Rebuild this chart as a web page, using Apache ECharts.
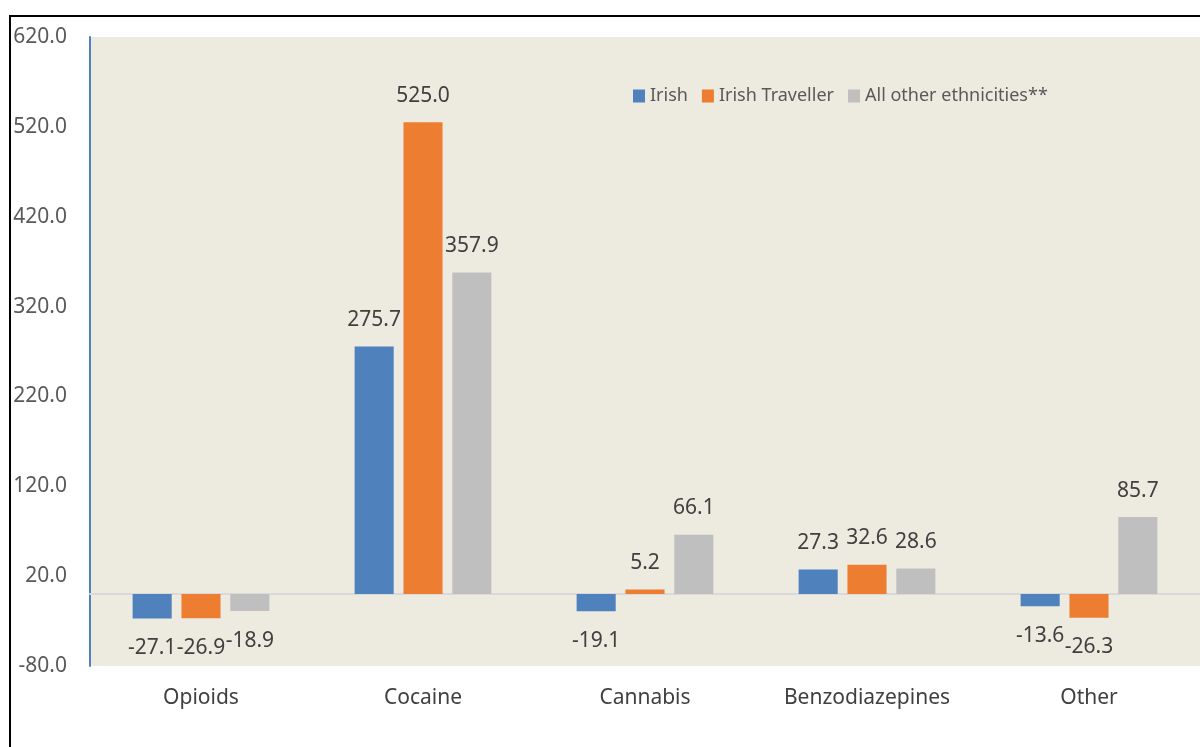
<!DOCTYPE html>
<html>
<head>
<meta charset="utf-8">
<script src="https://cdn.jsdelivr.net/npm/echarts@6/dist/echarts.min.js"></script>
<style>
html,body{margin:0;padding:0;background:#fff;}
#chart{width:1200px;height:747px;}
</style>
</head>
<body>
<div id="chart"></div>
<script>
const categories = ['Opioids', 'Cocaine', 'Cannabis', 'Benzodiazepines', 'Other'];
const seriesNames = ['Irish', 'Irish Traveller', 'All other ethnicities**'];
const irish = [-27.1, 275.7, -19.1, 27.3, -13.6];
const irishTraveller = [-26.9, 525.0, 5.2, 32.6, -26.3];
const allOther = [-18.9, 357.9, 66.1, 28.6, 85.7];
const colors = ['#4F81BD', '#ED7D31', '#BFBFBF'];

const FONT = 'Noto Sans';
const chart = echarts.init(document.getElementById('chart'));

function makeSeries(name, values, color) {
  return {
    name: name,
    type: 'bar',
    barWidth: '17.6%',
    barGap: '25%',
    itemStyle: { color: color },
    data: values.map(v => ({
      value: v,
      label: { position: v < 0 ? 'bottom' : 'top', distance: v < 0 ? 19 : 16 }
    })),
    label: {
      show: true,
      color: '#404040',
      fontFamily: FONT,
      fontSize: 21,
      formatter: p => p.value.toFixed(1)
    }
  };
}

chart.setOption({
  animation: false,
  color: colors,
  textStyle: { fontFamily: FONT },
  graphic: [{
    type: 'rect',
    shape: { x: 10, y: 16, width: 1400, height: 1000 },
    style: { fill: 'none', stroke: '#000', lineWidth: 2 },
    silent: true
  }],
  grid: {
    left: 90, right: 0, top: 37, bottom: 81,
    show: true, backgroundColor: '#EDEAE0', borderWidth: 0
  },
  legend: {
    left: 628, top: 82,
    itemWidth: 12, itemHeight: 13, itemGap: 14,
    icon: 'rect',
    textStyle: { color: '#595959', fontSize: 18, fontFamily: FONT, padding: [0,0,0,0] },
    data: seriesNames
  },
  xAxis: {
    type: 'category',
    data: categories,
    axisLine: { show: true, onZero: true, lineStyle: { color: '#D9D9D9', width: 2 } },
    axisTick: { show: false },
    axisLabel: { color: '#404040', fontSize: 21, fontFamily: FONT, margin: 22 }
  },
  yAxis: {
    type: 'value',
    min: -80, max: 620, interval: 100,
    splitLine: { show: false },
    axisLine: { show: true, lineStyle: { color: '#4F81BD', width: 2 } },
    axisTick: { show: false },
    axisLabel: { color: '#595959', fontSize: 21, fontFamily: FONT, margin: 23, formatter: v => v.toFixed(1) }
  },
  series: [
    makeSeries(seriesNames[0], irish, colors[0]),
    makeSeries(seriesNames[1], irishTraveller, colors[1]),
    makeSeries(seriesNames[2], allOther, colors[2])
  ]
});
</script>
</body>
</html>
